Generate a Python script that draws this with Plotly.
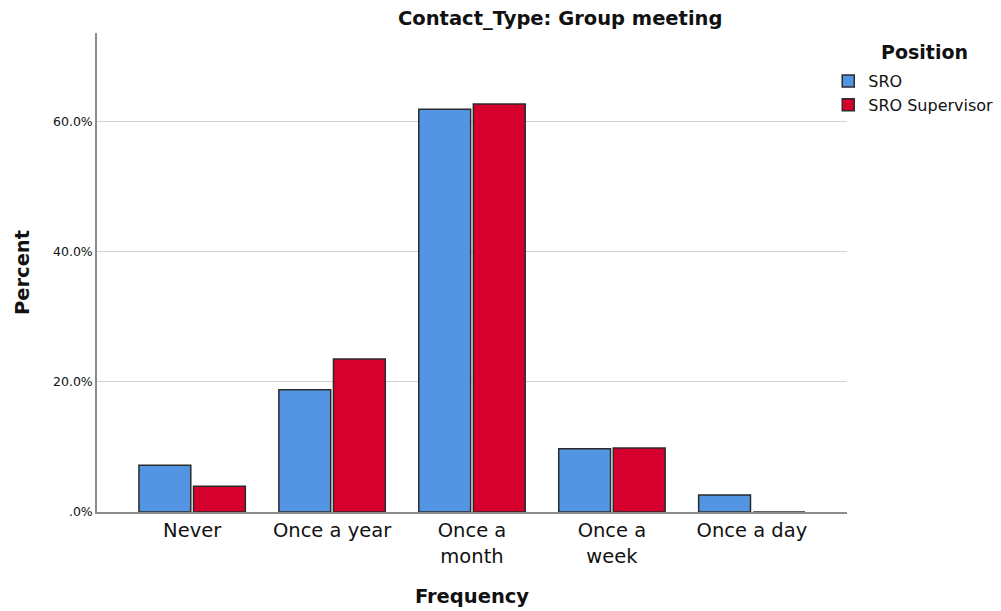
import plotly.graph_objects as go

category_labels = ["Never", "Once a year", "Once a<br>month", "Once a<br>week", "Once a day"]
sro = [7.2, 18.8, 61.9, 9.7, 2.6]
sro_supervisor = [3.95, 23.5, 62.7, 9.85, 0.0]
y_ticks = [0, 20, 40, 60]
y_tick_labels = [".0%", "20.0%", "40.0%", "60.0%"]

font = "DejaVu Sans"
line = dict(color="#2b2b2b", width=1.5)

fig = go.Figure()
fig.add_trace(go.Bar(x=category_labels, y=sro, name="SRO",
                     marker=dict(color="#5394e3", line=line)))
fig.add_trace(go.Bar(x=category_labels, y=sro_supervisor, name="SRO Supervisor",
                     marker=dict(color="#d5002e", line=line)))

# page body has an 8px margin, so the figure is a bit smaller than the window
fig.update_layout(
    width=993, height=603,
    margin=dict(l=89, r=154, t=25, b=99, autoexpand=False),
    paper_bgcolor="white", plot_bgcolor="white",
    font=dict(family=font, color="#111111"),
    barmode="group", bargap=0.22, bargroupgap=0.05,
    showlegend=True,
    legend=dict(x=0.975, y=0.935, xanchor="left", yanchor="top",
                font=dict(size=16), traceorder="normal",
                tracegroupgap=0, itemwidth=30, bgcolor="rgba(0,0,0,0)"),
)
fig.update_xaxes(range=[-0.68, 4.68], showline=True, linecolor="#8c8c8c", linewidth=1.5,
                 ticks="", tickfont=dict(size=19.5), automargin=False,
                 title=dict(text="<b>Frequency</b>", font=dict(size=19.5), standoff=23))
fig.update_yaxes(range=[0, 73.6], showline=True, linecolor="#8c8c8c", linewidth=1.5,
                 showgrid=True, gridcolor="#d0d0d0", gridwidth=1.2,
                 tickvals=y_ticks, ticktext=y_tick_labels, ticks="",
                 tickfont=dict(size=12.5), zeroline=False, automargin=False,
                 title=dict(text="<b>Percent</b>", font=dict(size=19.5), standoff=18))

fig.add_annotation(text="<b>Contact_Type: Group meeting</b>", xref="paper", yref="paper",
                   x=0.617, y=1.0, yshift=1, yanchor="bottom", showarrow=False,
                   font=dict(size=19.5))
fig.add_annotation(text="<b>Position</b>", xref="paper", yref="paper",
                   x=1.103, y=0.96, xanchor="center", yanchor="middle", showarrow=False,
                   font=dict(size=19))

fig.write_html("out.html")
